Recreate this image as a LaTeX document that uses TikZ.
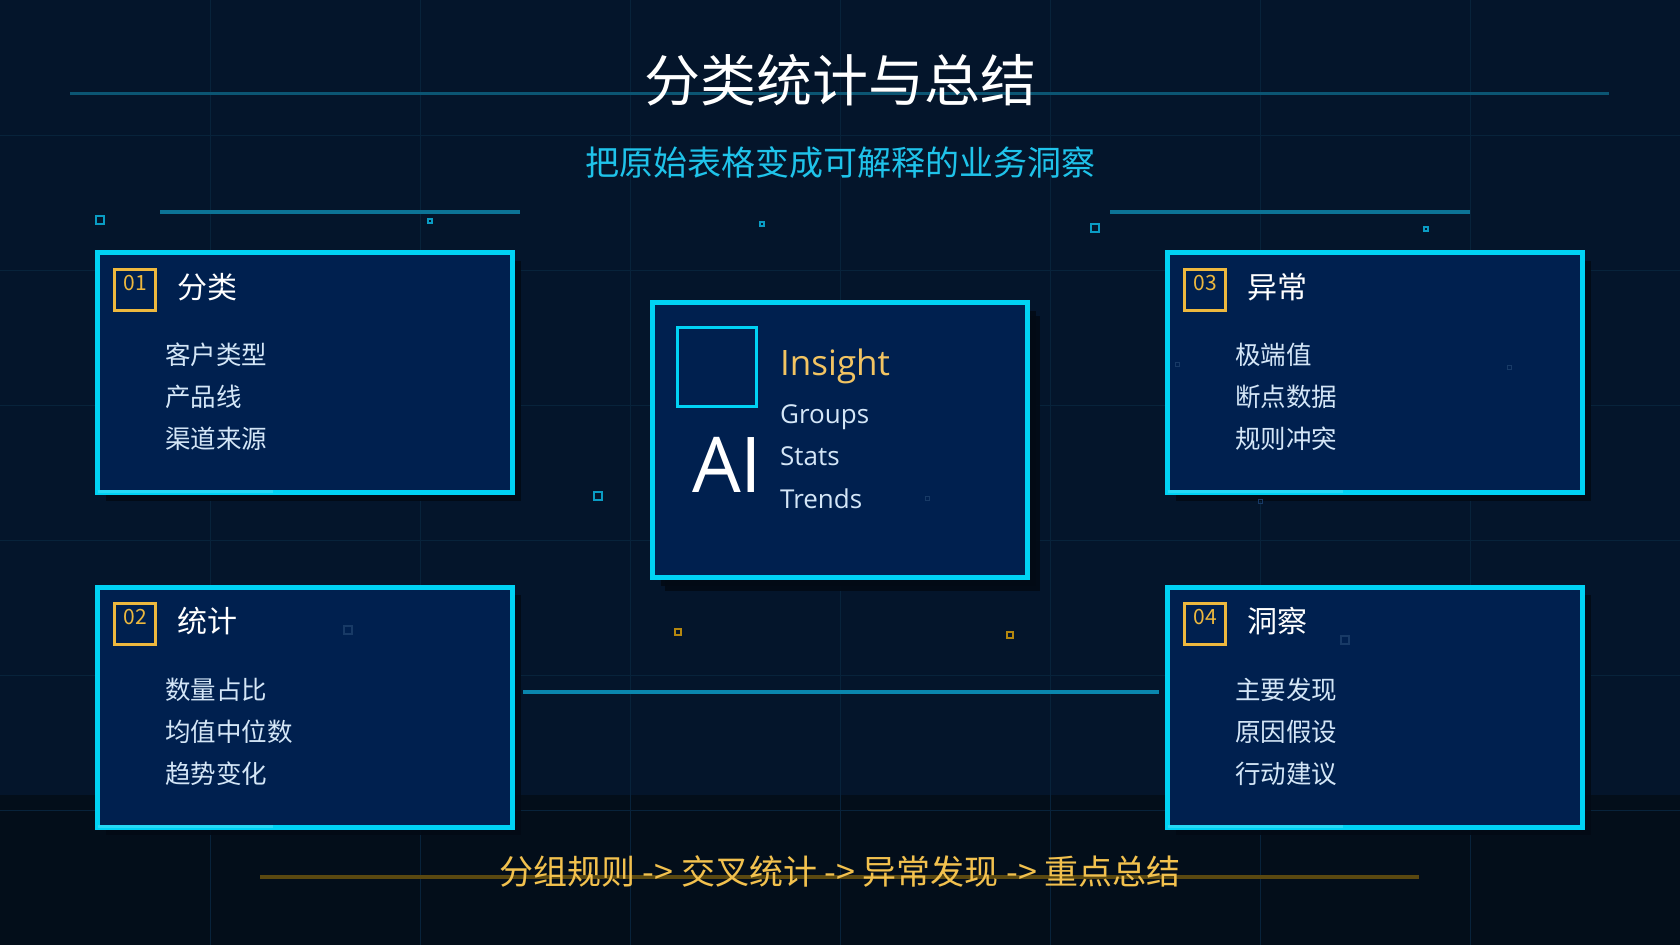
\documentclass[tikz,border=0pt]{standalone}
\usepackage{fontspec}
\usetikzlibrary{shadows}
\newfontfamily\cjk{Noto Sans CJK SC}
\newfontfamily\lat{Open Sans}
\definecolor{bgc}{HTML}{04152B}
\definecolor{bgbot}{HTML}{030E1A}
\definecolor{gridc}{HTML}{08233B}
\definecolor{linec}{HTML}{0B5573}
\definecolor{decoc}{HTML}{0C7396}
\definecolor{midc}{HTML}{0A86AE}
\definecolor{cardline}{HTML}{00D2F4}
\definecolor{cardfill}{HTML}{00204F}
\definecolor{shadowc}{HTML}{020A15}
\definecolor{gold}{HTML}{EDB83E}
\definecolor{insc}{HTML}{F2C462}
\definecolor{itemc}{HTML}{D4E6F7}
\definecolor{subc}{HTML}{1FC3EA}
\definecolor{sqc}{HTML}{0A9CC4}
\definecolor{faintc}{HTML}{183A66}
\definecolor{goldline}{HTML}{5A4810}
\definecolor{goldsq}{HTML}{B5870F}
\definecolor{botc}{HTML}{F2C14E}
\tikzset{
  card/.style={draw=cardline, line width=5pt, fill=cardfill, minimum width=415pt, minimum height=240pt, inner sep=0pt,
    drop shadow={shadow xshift=8pt, shadow yshift=-8pt, fill=shadowc, opacity=0.9}},
  badge/.style={draw=gold, line width=3pt, minimum size=41pt, inner sep=0pt},
  num/.style={text=gold, font=\cjk\fontsize{21}{21}\selectfont, inner sep=0pt},
  head/.style={text=white, font=\cjk\fontsize{30}{30}\selectfont, anchor=west, inner sep=0pt},
  item/.style={text=itemc, font=\cjk\fontsize{25.5}{25.5}\selectfont, anchor=west, inner sep=0pt},
  latitem/.style={text=itemc, font=\lat\fontsize{26}{26}\selectfont, anchor=base west, inner sep=0pt},
  sq/.style={draw=sqc, line width=2pt},
  fsq/.style={draw=faintc, line width=1.5pt},
  gsq/.style={draw=goldsq, line width=2.5pt},
}
\begin{document}
\begin{tikzpicture}[x=1pt,y=-1pt]
\useasboundingbox (0,0) rectangle (1680,945);
\fill[bgc] (0,0) rectangle (1680,945);
\fill[bgbot] (0,795) rectangle (1680,945);
% grid
\foreach \gx in {210,420,...,1470} \draw[gridc, line width=1pt] (\gx,0) -- (\gx,945);
\foreach \gy in {135,270,...,810} \draw[gridc, line width=1pt] (0,\gy) -- (1680,\gy);
% decorative lines
\draw[linec, line width=3pt] (70,93) -- (1609,93);
\draw[decoc, line width=4pt] (160,212) -- (520,212);
\draw[decoc, line width=4pt] (1110,212) -- (1470,212);
\draw[goldline, line width=4pt] (260,877) -- (1419,877);
% small squares
\draw[sq] (96,216) rectangle (104,224);
\draw[sq, line width=1.5pt] (428,219) rectangle (432,223);
\draw[sq, line width=1.5pt] (760,222) rectangle (764,226);
\draw[sq] (1091,224) rectangle (1099,232);
\draw[sq, line width=1.5pt] (1424,227) rectangle (1428,231);
\draw[sq, line width=2.5pt] (594,492) rectangle (602,500);
\draw[gsq] (675,629) rectangle (681,635);
\draw[gsq] (1007,632) rectangle (1013,638);
% title
\node[text=white, font=\cjk\fontsize{56}{56}\selectfont, inner sep=0pt] (title) at (840,80) {分类统计与总结};
\node[text=subc, font=\cjk\fontsize{34}{34}\selectfont, inner sep=0pt] (sub) at (840,163) {把原始表格变成可解释的业务洞察};
% cards
\foreach \cx/\cy/\nm/\num/\hd/\ia/\ib/\ic in {
  305/372.5/c1/01/分类/客户类型/产品线/渠道来源,
  305/707/c2/02/统计/数量占比/均值中位数/趋势变化,
  1375/372.5/c3/03/异常/极端值/断点数据/规则冲突,
  1375/707/c4/04/洞察/主要发现/原因假设/行动建议}{
  \node[card] (\nm) at (\cx,\cy) {};
  \draw[cardline!85!white, line width=3pt] ([shift={(2.5,-3.5)}]\nm.south west) -- ++(175,0);
  \node[badge] (\nm b) at ([shift={(-170,-83)}]\nm.center) {};
  \node[num] (\nm n) at ([shift={(-170,-89.5)}]\nm.center) {\num};
  \node[head] (\nm h) at ([shift={(-128,-85.5)}]\nm.center) {\hd};
  \node[item] (\nm i1) at ([shift={(-140,-17.5)}]\nm.center) {\ia};
  \node[item] (\nm i2) at ([shift={(-140,24.5)}]\nm.center) {\ib};
  \node[item] (\nm i3) at ([shift={(-140,66.5)}]\nm.center) {\ic};
}
% faint squares in cards
\draw[fsq] (344,626) rectangle (352,634);
\draw[fsq] (1341,636) rectangle (1349,644);
\draw[fsq, line width=1pt] (1175,362) rectangle (1179,366);
\draw[fsq, line width=1pt] (1507,365) rectangle (1511,369);
\draw[fsq, line width=1pt] (1258,499) rectangle (1262,503);
% center card
\node[card, minimum width=375pt, minimum height=275pt, drop shadow={shadow xshift=12pt, shadow yshift=-13pt, fill=shadowc, opacity=0.9}] (cc) at (840,440) {};
\node[draw=cardline, line width=3pt, minimum size=79pt, inner sep=0pt] (ccsq) at (717,367) {};
\draw[fsq, line width=1pt] (925,496) rectangle (929,500);
\node[text=white, font=\lat\fontsize{77}{77}\selectfont, anchor=base west, inner sep=0pt] (ai) at (692,492) {AI};
\node[text=insc, font=\lat\fontsize{35}{35}\selectfont, anchor=base west, inner sep=0pt] (ins) at (780,375) {Insight};
\node[latitem] (g1) at (780,423) {Groups};
\node[latitem] (g2) at (780,465.5) {Stats};
\node[latitem] (g3) at (780,508) {Trends};
% connector between lower cards
\draw[midc, line width=4pt] ([shift={(8,-15)}]c2.east) -- ([shift={(-6,-15)}]c4.west);
% bottom flow text
\node[text=botc, font=\cjk\fontsize{34}{34}\selectfont, inner sep=0pt] (flow) at (840,871) {分组规则 -> 交叉统计 -> 异常发现 -> 重点总结};
\end{tikzpicture}
\end{document}
